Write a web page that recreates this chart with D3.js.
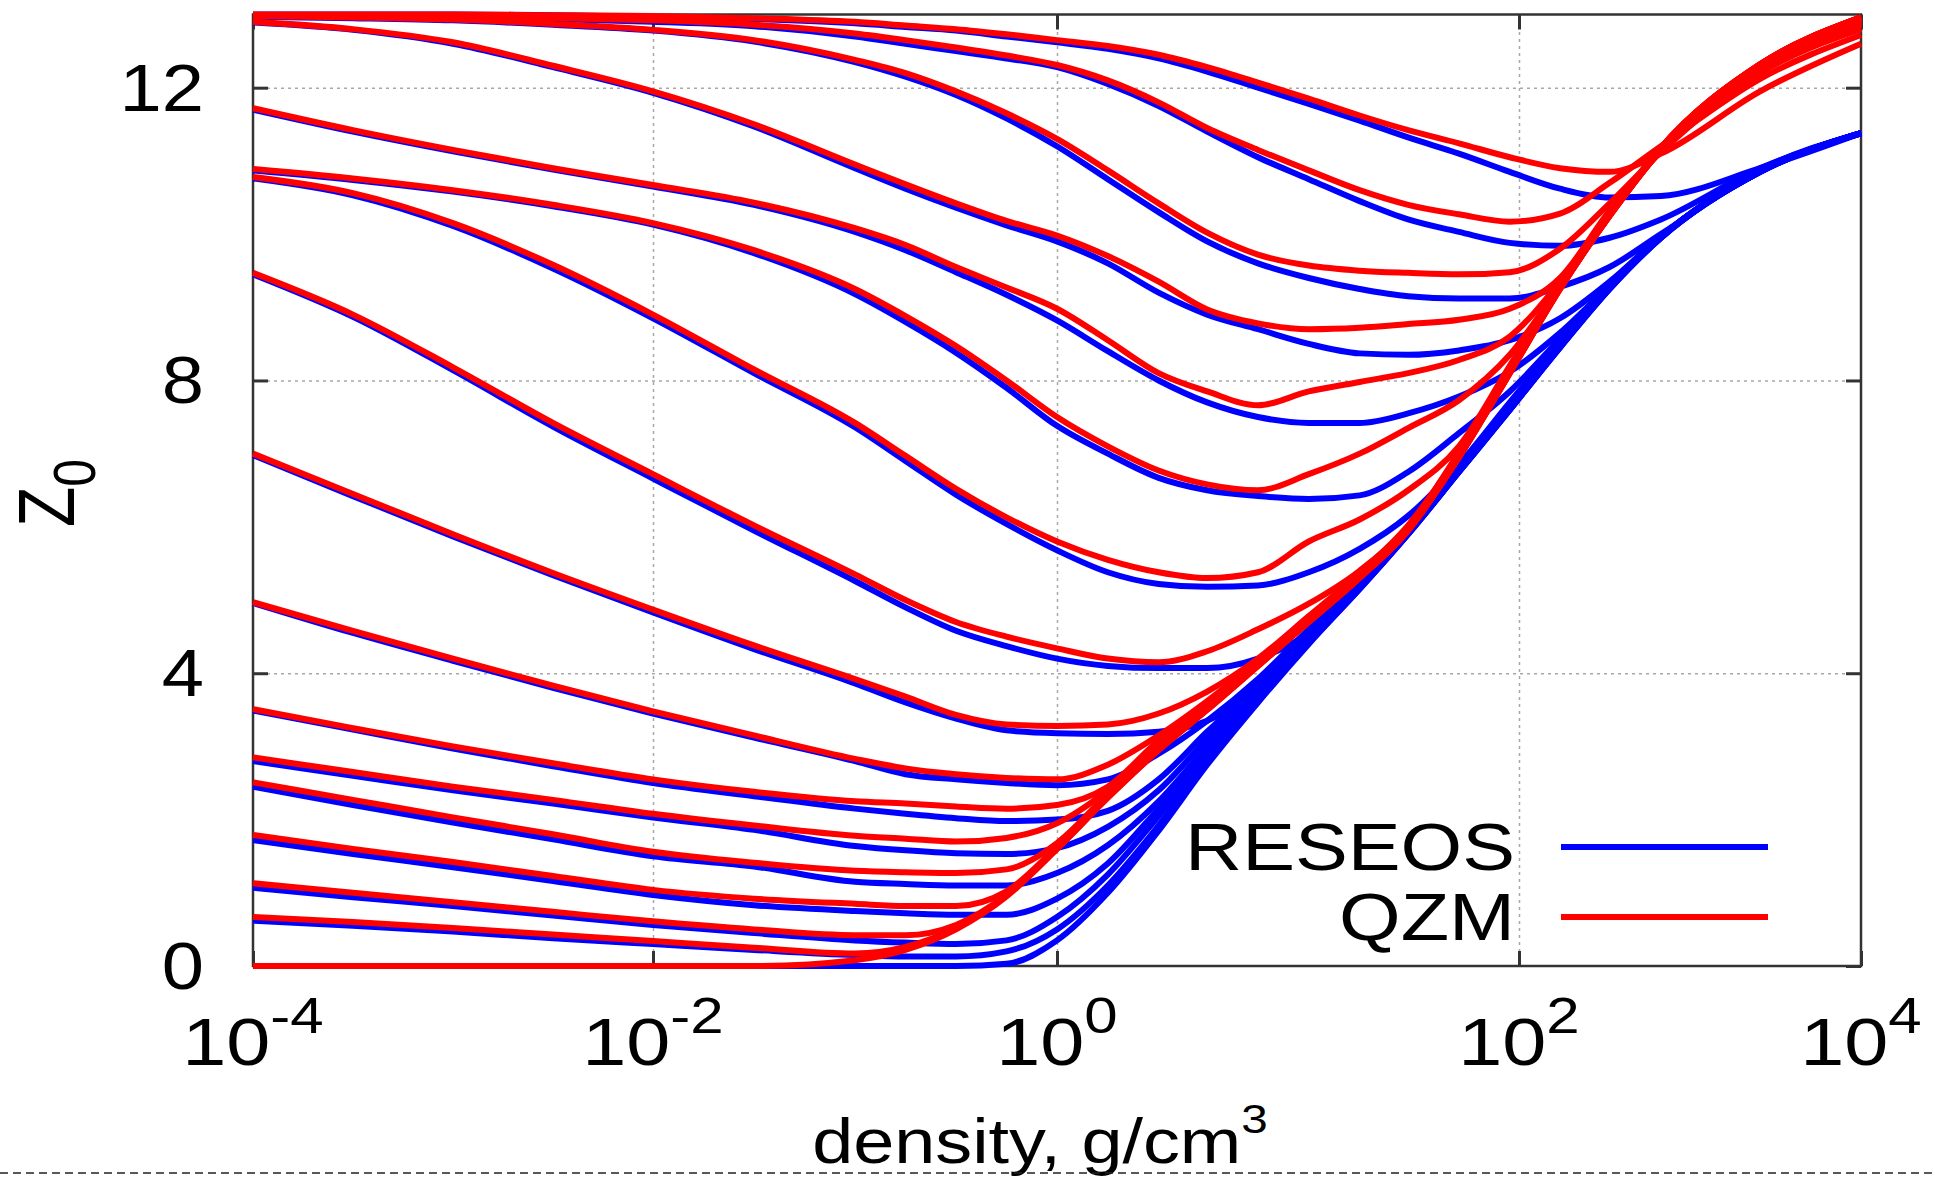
<!DOCTYPE html>
<html>
<head>
<meta charset="UTF-8">
<title>Z0 vs density</title>
<script src="https://cdn.jsdelivr.net/npm/d3@7"></script>
<style>
  body { margin: 0; background: #fff; }
  text { font-family: "Liberation Sans", Arial, sans-serif; fill: #000; }
</style>
</head>
<body>
<svg id="chart" width="1935" height="1181"></svg>
<script>
// log10 of density (g/cm3) where each curve was read
const logDensity = [-4, -3.5, -3, -2.5, -2, -1.5, -1, -0.75, -0.5, -0.25, 0, 0.22, 0.44, 0.65, 0.87, 1.09, 1.31, 1.52, 1.74, 1.96, 2.24, 2.53, 2.83, 3.41, 4];

// RESEOS (blue), one row per temperature, hottest first
const reseos = [
  [13.0, 13.0, 13.0, 12.99, 12.97, 12.94, 12.88, 12.83, 12.78, 12.7, 12.62, 12.53, 12.4, 12.22, 12.0, 11.78, 11.55, 11.32, 11.1, 10.85, 10.62, 10.5, 10.52, 10.9, 11.38],
  [12.99, 12.98, 12.96, 12.94, 12.9, 12.84, 12.7, 12.6, 12.5, 12.4, 12.28, 12.05, 11.75, 11.4, 11.05, 10.75, 10.45, 10.2, 10.03, 9.88, 9.84, 9.95, 10.2, 10.9, 11.38],
  [12.97, 12.95, 12.92, 12.86, 12.78, 12.63, 12.35, 12.15, 11.9, 11.58, 11.2, 10.75, 10.3, 9.9, 9.6, 9.4, 9.25, 9.15, 9.12, 9.12, 9.28, 9.55, 10.0, 10.88, 11.38],
  [12.89, 12.79, 12.6, 12.28, 11.93, 11.47, 10.9, 10.62, 10.36, 10.12, 9.9, 9.6, 9.2, 8.9, 8.7, 8.5, 8.37, 8.35, 8.41, 8.55, 8.85, 9.35, 9.97, 10.86, 11.38],
  [11.7, 11.4, 11.13, 10.88, 10.65, 10.4, 10.03, 9.78, 9.48, 9.17, 8.82, 8.4, 8.0, 7.7, 7.5, 7.42, 7.42, 7.55, 7.78, 8.12, 8.65, 9.3, 9.96, 10.86, 11.38],
  [10.87, 10.74, 10.58, 10.38, 10.13, 9.74, 9.18, 8.8, 8.38, 7.9, 7.38, 7.0, 6.67, 6.5, 6.42, 6.38, 6.43, 6.75, 7.28, 7.85, 8.57, 9.3, 9.96, 10.86, 11.38],
  [10.76, 10.53, 10.11, 9.53, 8.85, 8.1, 7.36, 6.9, 6.44, 6.04, 5.68, 5.38, 5.22, 5.18, 5.2, 5.38, 5.7, 6.15, 6.85, 7.7, 8.52, 9.28, 9.96, 10.86, 11.38],
  [9.45, 8.87, 8.14, 7.37, 6.66, 5.95, 5.26, 4.9, 4.58, 4.37, 4.2, 4.1, 4.07, 4.07, 4.2, 4.55, 5.25, 5.95, 6.8, 7.66, 8.5, 9.28, 9.96, 10.86, 11.38],
  [6.98, 6.42, 5.87, 5.34, 4.83, 4.33, 3.86, 3.6, 3.38, 3.22, 3.18, 3.17, 3.2, 3.35, 3.8, 4.5, 5.22, 5.93, 6.8, 7.65, 8.5, 9.28, 9.96, 10.86, 11.38],
  [4.96, 4.55, 4.17, 3.8, 3.45, 3.12, 2.8, 2.62, 2.55, 2.5, 2.47, 2.55, 2.9, 3.35, 3.92, 4.6, 5.25, 5.95, 6.8, 7.65, 8.5, 9.28, 9.96, 10.86, 11.38],
  [3.49, 3.23, 2.97, 2.73, 2.5, 2.32, 2.15, 2.08, 2.02, 1.98, 2.0, 2.12, 2.55, 3.2, 3.85, 4.57, 5.23, 5.94, 6.79, 7.64, 8.49, 9.27, 9.96, 10.86, 11.38],
  [2.8, 2.6, 2.4, 2.22, 2.03, 1.86, 1.64, 1.58, 1.54, 1.53, 1.61, 1.9, 2.4, 3.1, 3.8, 4.55, 5.22, 5.93, 6.78, 7.63, 8.49, 9.27, 9.96, 10.86, 11.38],
  [2.45, 2.2, 1.96, 1.73, 1.5, 1.36, 1.15, 1.12, 1.1, 1.1, 1.27, 1.65, 2.25, 3.0, 3.75, 4.5, 5.2, 5.92, 6.77, 7.62, 8.48, 9.27, 9.95, 10.85, 11.38],
  [1.72, 1.53, 1.35, 1.16, 0.97, 0.83, 0.75, 0.72, 0.7, 0.7, 0.92, 1.4, 2.15, 2.9, 3.7, 4.47, 5.18, 5.91, 6.76, 7.61, 8.47, 9.26, 9.95, 10.85, 11.38],
  [1.07, 0.94, 0.82, 0.69, 0.56, 0.45, 0.35, 0.32, 0.3, 0.35, 0.67, 1.25, 2.05, 2.85, 3.65, 4.44, 5.16, 5.9, 6.75, 7.6, 8.46, 9.26, 9.95, 10.85, 11.38],
  [0.62, 0.55, 0.47, 0.38, 0.3, 0.22, 0.15, 0.13, 0.13, 0.2, 0.5, 1.1, 1.92, 2.8, 3.62, 4.42, 5.15, 5.9, 6.75, 7.6, 8.45, 9.25, 9.95, 10.85, 11.38],
  [0, 0, 0, 0, 0, 0, 0, 0, 0, 0.03, 0.35, 1.0, 1.85, 2.75, 3.6, 4.4, 5.15, 5.9, 6.75, 7.6, 8.45, 9.25, 9.95, 10.85, 11.38]
];

// QZM (red), same temperatures
const qzm = [
  [13.0, 13.0, 13.0, 12.99, 12.98, 12.95, 12.9, 12.85, 12.8, 12.73, 12.65, 12.57, 12.45, 12.28, 12.07, 11.85, 11.62, 11.42, 11.24, 11.05, 10.9, 10.85, 11.1, 11.95, 12.6],
  [12.99, 12.98, 12.97, 12.95, 12.92, 12.86, 12.74, 12.65, 12.55, 12.44, 12.31, 12.1, 11.8, 11.45, 11.15, 10.87, 10.6, 10.4, 10.27, 10.17, 10.28, 10.7, 11.2, 12.12, 12.72],
  [12.98, 12.96, 12.93, 12.87, 12.79, 12.65, 12.38, 12.2, 11.95, 11.65, 11.3, 10.87, 10.42, 10.02, 9.72, 9.57, 9.5, 9.47, 9.45, 9.48, 9.8, 10.42, 11.12, 12.2, 12.8],
  [12.9, 12.8, 12.62, 12.3, 11.95, 11.5, 10.95, 10.68, 10.42, 10.18, 9.98, 9.7, 9.35, 8.97, 8.78, 8.7, 8.72, 8.77, 8.83, 8.98, 9.4, 10.32, 11.15, 12.25, 12.86],
  [11.72, 11.42, 11.15, 10.9, 10.67, 10.43, 10.08, 9.85, 9.55, 9.27, 8.98, 8.55, 8.1, 7.85, 7.66, 7.85, 7.98, 8.1, 8.28, 8.6, 9.35, 10.3, 11.15, 12.27, 12.9],
  [10.89, 10.76, 10.6, 10.4, 10.15, 9.78, 9.25, 8.88, 8.47, 8.0, 7.5, 7.1, 6.77, 6.58, 6.5, 6.72, 7.0, 7.35, 7.73, 8.35, 9.3, 10.27, 11.15, 12.3, 12.93],
  [10.78, 10.56, 10.15, 9.58, 8.9, 8.15, 7.42, 6.97, 6.52, 6.13, 5.8, 5.55, 5.38, 5.3, 5.38, 5.8, 6.1, 6.5, 7.1, 8.2, 9.28, 10.27, 11.17, 12.3, 12.95],
  [9.47, 8.9, 8.18, 7.42, 6.72, 6.02, 5.35, 5.0, 4.7, 4.5, 4.34, 4.2, 4.15, 4.3, 4.6, 4.95, 5.4, 6.0, 7.02, 8.18, 9.28, 10.27, 11.18, 12.3, 12.95],
  [7.0, 6.45, 5.9, 5.37, 4.87, 4.38, 3.92, 3.68, 3.43, 3.3, 3.28, 3.3, 3.45, 3.75, 4.2, 4.78, 5.37, 6.02, 7.0, 8.17, 9.28, 10.27, 11.18, 12.32, 12.96],
  [4.97, 4.58, 4.2, 3.83, 3.48, 3.15, 2.83, 2.7, 2.62, 2.57, 2.55, 2.75, 3.15, 3.62, 4.17, 4.76, 5.36, 6.0, 6.99, 8.16, 9.28, 10.27, 11.18, 12.32, 12.96],
  [3.51, 3.25, 3.0, 2.77, 2.55, 2.38, 2.25, 2.22, 2.18, 2.15, 2.2, 2.45, 3.08, 3.58, 4.15, 4.75, 5.35, 6.0, 6.98, 8.15, 9.27, 10.26, 11.18, 12.32, 12.96],
  [2.85, 2.65, 2.45, 2.27, 2.08, 1.92, 1.78, 1.74, 1.7, 1.75, 1.95, 2.4, 3.02, 3.56, 4.14, 4.74, 5.34, 5.99, 6.97, 8.13, 9.27, 10.26, 11.18, 12.32, 12.96],
  [2.51, 2.27, 2.03, 1.8, 1.56, 1.41, 1.3, 1.28, 1.27, 1.32, 1.68, 2.35, 3.0, 3.54, 4.13, 4.73, 5.33, 5.98, 6.97, 8.12, 9.26, 10.26, 11.17, 12.31, 12.96],
  [1.79, 1.6, 1.42, 1.23, 1.04, 0.92, 0.85, 0.82, 0.82, 1.02, 1.63, 2.33, 2.98, 3.53, 4.12, 4.72, 5.32, 5.97, 6.96, 8.11, 9.26, 10.25, 11.16, 12.31, 12.96],
  [1.13, 1.0, 0.87, 0.74, 0.61, 0.5, 0.42, 0.42, 0.56, 0.97, 1.61, 2.31, 2.96, 3.51, 4.11, 4.71, 5.31, 5.96, 6.95, 8.1, 9.25, 10.25, 11.15, 12.3, 12.96],
  [0.67, 0.6, 0.52, 0.43, 0.34, 0.25, 0.17, 0.26, 0.52, 0.96, 1.6, 2.3, 2.95, 3.5, 4.1, 4.7, 5.3, 5.95, 6.95, 8.1, 9.25, 10.25, 11.15, 12.3, 12.96],
  [0, 0, 0, 0, 0, 0, 0.08, 0.22, 0.5, 0.95, 1.6, 2.3, 2.95, 3.5, 4.1, 4.7, 5.3, 5.95, 6.95, 8.1, 9.25, 10.25, 11.15, 12.3, 12.96]
];

const xTickPowers = [-4, -2, 0, 2, 4];
const yTicks = [0, 4, 8, 12];
const legendNames = ["RESEOS", "QZM"];
const legendColors = ["#0000ff", "#ff0000"];

const W = 1935, H = 1181;
const plotLeft = 253, plotRight = 1861, plotTop = 14.5, plotBottom = 966;

const svg = d3.select("#chart");
svg.append("rect").attr("width", W).attr("height", H).attr("fill", "#fff");

// the decades are not evenly spaced in the original figure, so map log10(density) piecewise
const x = d3.scaleLinear().domain(xTickPowers).range([plotLeft, 653, 1057, 1519, plotRight]);
const y = d3.scaleLinear().domain([0, 13]).range([plotBottom, plotTop]);

// dotted grid
const grid = svg.append("g");
grid.append("g").attr("transform", `translate(0,${plotBottom})`)
    .call(d3.axisBottom(x).tickValues(xTickPowers.slice(1, -1)).tickSize(-(plotBottom - plotTop)).tickFormat(""));
grid.append("g").attr("transform", `translate(${plotLeft},0)`)
    .call(d3.axisLeft(y).tickValues(yTicks.slice(1)).tickSize(-(plotRight - plotLeft)).tickFormat(""));
grid.selectAll(".domain").remove();
grid.selectAll("line").attr("stroke", "#a8a8a8").attr("stroke-width", 1.5).attr("stroke-dasharray", "3,4");

// inward ticks on all four sides
const tickLen = 15;
const ticks = svg.append("g");
ticks.append("g").attr("transform", `translate(0,${plotBottom})`).call(d3.axisBottom(x).tickValues(xTickPowers).tickSize(-tickLen).tickFormat(""));
ticks.append("g").attr("transform", `translate(0,${plotTop})`).call(d3.axisTop(x).tickValues(xTickPowers).tickSize(-tickLen).tickFormat(""));
ticks.append("g").attr("transform", `translate(${plotLeft},0)`).call(d3.axisLeft(y).tickValues(yTicks).tickSize(-tickLen).tickFormat(""));
ticks.append("g").attr("transform", `translate(${plotRight},0)`).call(d3.axisRight(y).tickValues(yTicks).tickSize(-tickLen).tickFormat(""));
ticks.selectAll(".domain").remove();
ticks.selectAll("line").attr("stroke", "#333").attr("stroke-width", 3);

svg.append("rect")
    .attr("x", plotLeft).attr("y", plotTop)
    .attr("width", plotRight - plotLeft).attr("height", plotBottom - plotTop)
    .attr("fill", "none").attr("stroke", "#333").attr("stroke-width", 2.5);

// tick labels
svg.append("g").selectAll("text").data(yTicks).join("text")
    .attr("transform", d => `translate(204,${y(d) + 23}) scale(1.15,1)`)
    .attr("text-anchor", "end").attr("font-size", 66)
    .text(d => d);

const xl = svg.append("g").selectAll("text").data(xTickPowers).join("text")
    .attr("transform", d => `translate(${x(d)},1065) scale(1.2,1)`)
    .attr("text-anchor", "middle").attr("font-size", 66);
xl.append("tspan").text("10");
xl.append("tspan").attr("font-size", 50).attr("dy", -32).text(d => d);

// axis titles
const xt = svg.append("text")
    .attr("transform", "translate(1040,1163) scale(1.19,1)")
    .attr("text-anchor", "middle").attr("font-size", 62);
xt.append("tspan").text("density, g/cm");
xt.append("tspan").attr("font-size", 40).attr("dy", -30).text("3");

const yt = svg.append("text")
    .attr("transform", "translate(74,527) scale(1.2,1) rotate(-90)")
    .attr("font-size", 66);
yt.append("tspan").text("Z");
yt.append("tspan").attr("font-size", 50).attr("dy", 17.6).text("0");

// curves
const line = d3.line()
    .x((d, i) => x(logDensity[i]))
    .y(d => y(d))
    .curve(d3.curveMonotoneX);

[reseos, qzm].forEach((series, s) => {
  svg.append("g").selectAll("path").data(series).join("path")
      .attr("d", line)
      .attr("fill", "none")
      .attr("stroke", legendColors[s])
      .attr("stroke-width", 6)
      .attr("stroke-linejoin", "round");
});

// legend
const lg = svg.append("g").selectAll("g").data(legendNames).join("g")
    .attr("transform", (d, i) => `translate(0,${847 + i * 70})`);
lg.append("text")
    .attr("transform", "translate(1515,23) scale(1.2,1)")
    .attr("text-anchor", "end").attr("font-size", 66)
    .text(d => d);
lg.append("line")
    .attr("x1", 1561).attr("x2", 1768)
    .attr("stroke", (d, i) => legendColors[i]).attr("stroke-width", 6);

// dashed separator under the figure
svg.append("line")
    .attr("x1", 0).attr("x2", W).attr("y1", 1173).attr("y2", 1173)
    .attr("stroke", "#222").attr("stroke-width", 1.6).attr("stroke-dasharray", "8,5");
</script>
</body>
</html>
